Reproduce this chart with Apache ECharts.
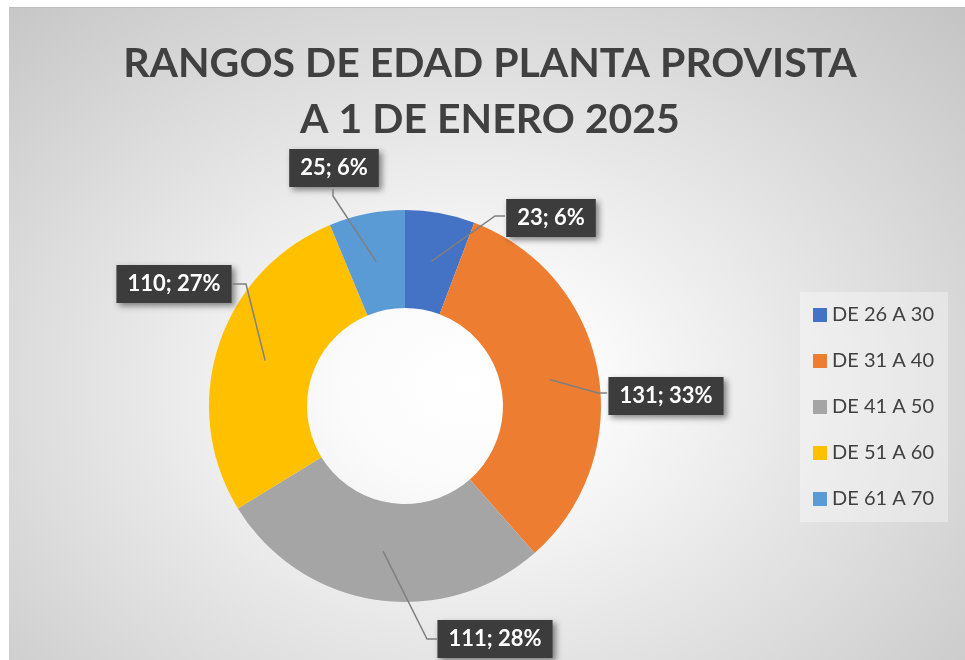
<!DOCTYPE html>
<html>
<head>
<meta charset="utf-8">
<script src="https://cdn.jsdelivr.net/npm/echarts@6/dist/echarts.min.js"></script>
<style>
  html, body { margin: 0; padding: 0; background: #ffffff; }
  #chart {
    position: absolute;
    left: 9px;
    top: 7px;
    width: 956px;
    height: 653px;
    background: radial-gradient(ellipse farthest-corner at 48% 58%, #ffffff 0%, #fbfbfb 18%, #c4c4c4 100%);
    border-top: 1px solid #bdbdbd;
    box-sizing: border-box;
  }
</style>
</head>
<body>
<div id="chart"></div>
<script>
  // data
  const categories = ["DE 26 A 30", "DE 31 A 40", "DE 41 A 50", "DE 51 A 60", "DE 61 A 70"];
  const values = [23, 131, 111, 110, 25];
  const colors = ["#4472C4", "#ED7D31", "#A5A5A5", "#FFC000", "#5B9BD5"];

  // pie geometry (container px)
  const pieCenter = [396, 398];
  const innerR = 98;
  const outerR = 196;

  // label box centres and leader bend points (container px)
  const labelBoxes = [
    [542, 210], [657, 388], [486, 631], [165, 276], [325, 160]
  ];
  const labelBends = [
    [[486, 208], [496, 208]],
    [[589, 385], [598, 385]],
    [[418, 631], [428, 631]],
    [[237, 276], [224, 276]],
    [[324, 188], [324, 181]],
  ];

  const total = values.reduce((a, b) => a + b, 0);

  // mid angle of each slice, clockwise from top
  function midAngle(idx) {
    let before = 0;
    for (let i = 0; i < idx; i++) before += values[i];
    return ((before + values[idx] / 2) / total) * Math.PI * 2;
  }

  // leader lines start in the middle of the ring
  const leaderLines = values.map((v, i) => {
    const a = midAngle(i);
    const r = (innerR + outerR) / 2;
    const start = [pieCenter[0] + r * Math.sin(a), pieCenter[1] - r * Math.cos(a)];
    return {
      type: "polyline",
      z: 10,
      silent: true,
      shape: { points: [start, labelBends[i][0], labelBends[i][1]] },
      style: { stroke: "#7f7f7f", lineWidth: 1.5, fill: null },
    };
  });

  const chart = echarts.init(document.getElementById("chart"));

  chart.setOption({
    backgroundColor: "transparent",
    color: colors,
    title: {
      text: "RANGOS DE EDAD PLANTA PROVISTA\nA 1 DE ENERO 2025",
      left: 476,
      top: 23,
      textAlign: "center",
      textStyle: {
        fontFamily: "Lato",
        fontWeight: "bold",
        fontSize: 41,
        lineHeight: 56,
        color: "#404040",
      },
    },
    legend: {
      orient: "vertical",
      left: 791,
      top: 284,
      padding: [13, 14, 13, 13],
      itemGap: 26,
      itemWidth: 14,
      itemHeight: 14,
      icon: "rect",
      backgroundColor: "rgba(255,255,255,0.35)",
      textStyle: {
        fontFamily: "Lato",
        fontSize: 20,
        color: "#404040",
      },
      data: categories,
    },
    graphic: leaderLines,
    series: [
      {
        type: "pie",
        center: pieCenter,
        radius: [innerR, outerR],
        startAngle: 90,
        clockwise: true,
        percentPrecision: 0,
        avoidLabelOverlap: false,
        emphasis: { disabled: true },
        data: categories.map((name, i) => ({ name: name, value: values[i] })),
        label: {
          show: true,
          formatter: (p) => p.value + "; " + p.percent + "%",
          fontFamily: "Lato",
          fontWeight: "bold",
          fontSize: 22,
          color: "#ffffff",
          backgroundColor: "#3c3c3c",
          padding: [9, 11, 7, 11],
          shadowColor: "rgba(0,0,0,0.45)",
          shadowBlur: 6,
          shadowOffsetX: 3,
          shadowOffsetY: 3,
        },
        labelLine: { show: false },
        labelLayout: function (params) {
          const i = params.dataIndex;
          return {
            x: labelBoxes[i][0],
            y: labelBoxes[i][1],
            align: "center",
            verticalAlign: "middle",
          };
        },
      },
    ],
  });
</script>
</body>
</html>
